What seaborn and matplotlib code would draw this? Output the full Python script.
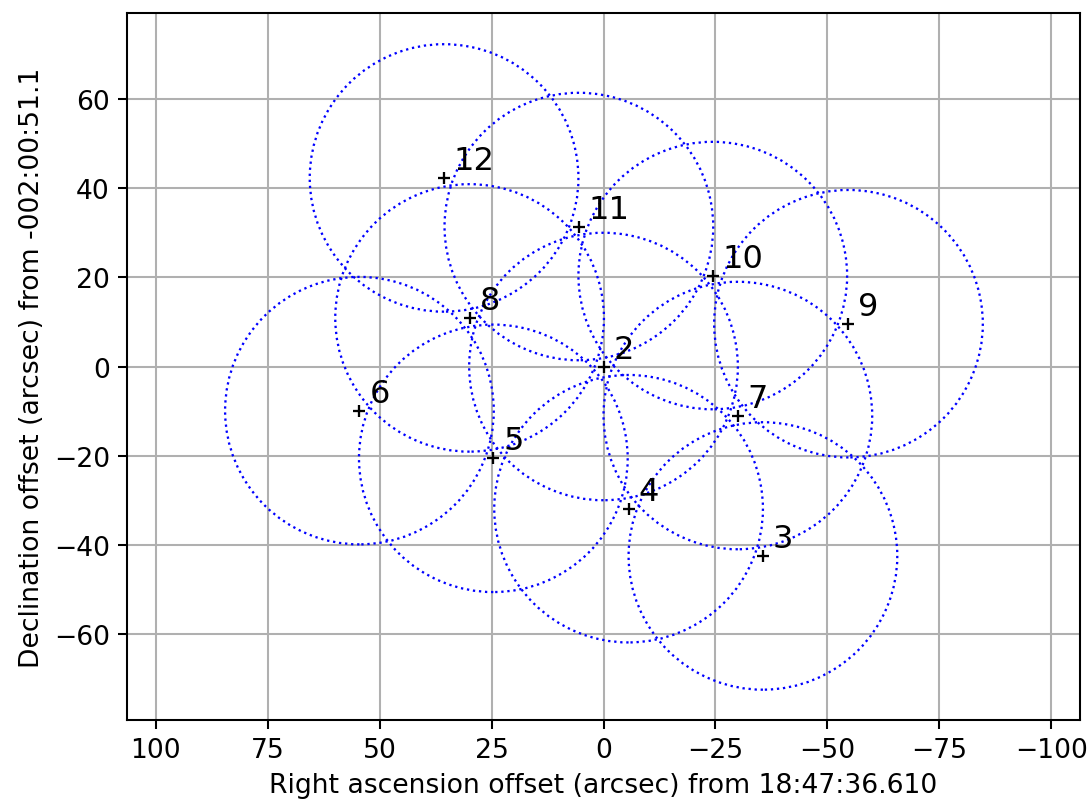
import matplotlib
matplotlib.use("Agg")
import matplotlib.pyplot as plt
from matplotlib.patches import Circle
import seaborn as sns
import pandas as pd

# Pointing data (arcsec offsets)
labels = ["2", "3", "4", "5", "6", "7", "8", "9", "10", "11", "12"]
ra_off = [0.0, -35.6, -5.6, 24.6, 54.5, -30.0, 29.9, -54.7, -24.4, 5.5, 35.6]
dec_off = [0.0, -42.5, -31.9, -20.6, -9.9, -11.0, 10.9, 9.6, 20.4, 31.4, 42.3]
beam_radius = [30.0] * len(labels)

x_ticks = [100, 75, 50, 25, 0, -25, -50, -75, -100]
y_ticks = [-60, -40, -20, 0, 20, 40, 60]

df = pd.DataFrame({"ra": ra_off, "dec": dec_off, "label": labels, "r": beam_radius})

dpi = 165
fig = plt.figure(figsize=(1089 / dpi, 803 / dpi), dpi=dpi)
ax = fig.add_axes([127 / 1089, 1 - 721 / 803, (1080 - 127) / 1089, (721 - 14) / 803])

ax.grid(True, color="#b0b0b0", linewidth=0.9)
ax.set_axisbelow(True)

for _, row in df.iterrows():
    c = Circle((row["ra"], row["dec"]), row["r"], fill=False, edgecolor="blue",
               linestyle=":", linewidth=1.0, zorder=2)
    ax.add_patch(c)

sns.scatterplot(data=df, x="ra", y="dec", marker="+", color="black", s=28,
                linewidth=1.0, ax=ax, zorder=3, legend=False)

for _, row in df.iterrows():
    ax.text(row["ra"] - 2.2, row["dec"] + 2.0, row["label"], fontsize=14,
            ha="left", va="baseline", color="black", zorder=4)

ax.set_xlim(106.4, -106.4)
ax.set_ylim(-79.3, 79.3)
ax.set_xticks(x_ticks)
ax.set_yticks(y_ticks)
ax.tick_params(labelsize=11.6, length=4, width=0.9)
ax.set_xlabel("Right ascension offset (arcsec) from 18:47:36.610", fontsize=11.6)
ax.set_ylabel("Declination offset (arcsec) from -002:00:51.1", fontsize=11.6)
for s in ax.spines.values():
    s.set_color("black")
    s.set_linewidth(0.9)

fig.savefig("out.png", dpi=dpi)
